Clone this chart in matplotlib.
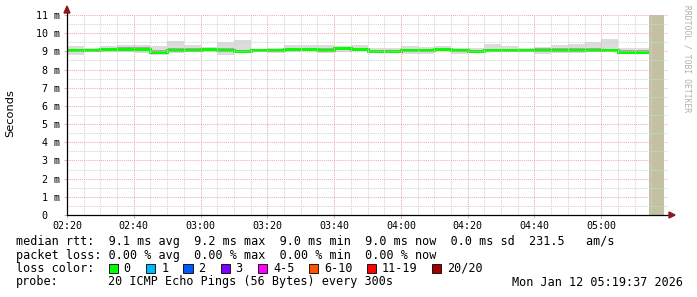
import numpy as np
import matplotlib
matplotlib.use("Agg")
import matplotlib.pyplot as plt
from matplotlib.patches import Rectangle, Polygon

# ---------------- data (milliseconds, 5-minute steps starting 02:20) ----------------
median = [9.05, 9.05, 9.12, 9.15, 9.15, 8.95, 9.05, 9.10, 9.15, 9.10, 9.00, 9.05,
          9.07, 9.15, 9.15, 9.10, 9.17, 9.12, 9.02, 9.00, 9.05, 9.05, 9.12, 9.05,
          9.00, 9.05, 9.05, 9.05, 9.08, 9.05, 9.05, 9.05, 9.05, 8.97, 8.97]
smoke_hi = [9.27, 9.18, 9.30, 9.36, 9.36, 9.27, 9.55, 9.36, 9.22, 9.50, 9.64, 9.15,
            9.18, 9.36, 9.36, 9.36, 9.30, 9.36, 9.18, 9.18, 9.30, 9.24, 9.30, 9.18,
            9.18, 9.42, 9.27, 9.18, 9.22, 9.36, 9.42, 9.53, 9.70, 9.18, 9.18]
smoke_lo = [8.82, 8.95, 8.95, 8.95, 8.91, 8.82, 8.91, 8.95, 8.95, 8.82, 8.91, 9.00,
            8.91, 8.95, 9.00, 8.91, 8.95, 9.00, 8.95, 8.95, 8.86, 8.86, 9.00, 8.87,
            8.91, 8.95, 9.00, 9.00, 8.86, 8.91, 8.91, 8.95, 9.00, 8.91, 8.91]
inner_hi = [9.12, 9.10, 9.20, 9.22, 9.22, 9.05, 9.20, 9.20, 9.20, 9.18, 9.10, 9.10,
            9.12, 9.20, 9.20, 9.18, 9.22, 9.20, 9.10, 9.08, 9.15, 9.14, 9.18, 9.10,
            9.08, 9.15, 9.12, 9.10, 9.18, 9.18, 9.20, 9.20, 9.15, 9.05, 9.05]
inner_lo = [8.98, 9.00, 9.02, 9.05, 9.00, 8.88, 8.98, 9.02, 9.05, 9.00, 8.95, 9.02,
            9.00, 9.05, 9.08, 9.00, 9.05, 9.05, 8.98, 8.98, 8.98, 8.98, 9.05, 8.98,
            8.95, 9.00, 9.02, 9.02, 8.98, 8.98, 8.98, 9.00, 9.02, 8.92, 8.92]
step_minutes = 5
unknown_start = 174.4   # minutes after 02:20
unknown_end = 178.8

x_tick_minutes = [0, 20, 40, 60, 80, 100, 120, 140, 160]
x_tick_labels = ["02:20", "02:40", "03:00", "03:20", "03:40", "04:00", "04:20", "04:40", "05:00"]
y_ticks = list(range(0, 12))
y_tick_labels = ["0  "] + [f"{v} m" for v in range(1, 12)]

stats_lines = [
    "median rtt:  9.1 ms avg  9.2 ms max  9.0 ms min  9.0 ms now  0.0 ms sd  231.5   am/s",
    "packet loss: 0.00 % avg  0.00 % max  0.00 % min  0.00 % now",
]
loss_labels = ["0", "1", "2", "3", "4-5", "6-10", "11-19", "20/20"]
loss_colors = ["#00ff00", "#00b8ff", "#0059ff", "#7e00ff", "#ff00ff", "#ff5500", "#ff0000", "#a10000"]
probe_text = "20 ICMP Echo Pings (56 Bytes) every 300s"
date_text = "Mon Jan 12 05:19:37 2026"

# ---------------- figure ----------------
W, H = 697, 297
fig = plt.figure(figsize=(W / 100, H / 100), dpi=100)
fig.patch.set_facecolor("white")
L, R, T, B = 67, 668, 15, 215
ax = fig.add_axes([L / W, 1 - B / H, (R - L) / W, (B - T) / H])
ax.set_xlim(0, 180)
ax.set_ylim(0, 11)
mono = "DejaVu Sans Mono"

n = len(median)
edges = np.arange(n + 1) * step_minutes

ax.stairs(smoke_hi, edges, baseline=smoke_lo, fill=True, color="#dcdcdc", zorder=1)
ax.stairs(inner_hi, edges, baseline=inner_lo, fill=True, color="#a8a8a8", zorder=2)
ax.stairs(median, edges, baseline=None, color="#00ff00", lw=2.2, zorder=3)

ax.add_patch(Rectangle((unknown_start, 0), unknown_end - unknown_start, 11,
                       facecolor="#c2c1a1", edgecolor="none", zorder=4))

# grid on top (rrdtool style)
dash = (0, (1, 1))
for m in np.arange(5, 180, 5):
    if m % 20 == 0:
        continue
    ax.axvline(m, color="#d4d4d4", lw=0.75, ls=dash, zorder=5)
for v in np.arange(0.5, 11.01, 0.5):
    if v % 1 == 0:
        continue
    ax.axhline(v, color="#d4d4d4", lw=0.75, ls=dash, zorder=5)
for m in x_tick_minutes[1:] + [180]:
    ax.axvline(m, color="#eab0b0", lw=0.75, ls=dash, zorder=6)
for v in y_ticks[1:]:
    ax.axhline(v, color="#eab0b0", lw=0.75, ls=dash, zorder=6)

for s in ax.spines.values():
    s.set_visible(False)
ax.set_xticks(x_tick_minutes)
ax.set_xticklabels(x_tick_labels, fontfamily=mono, fontsize=7.2)
ax.set_yticks(y_ticks)
ax.set_yticklabels(y_tick_labels, fontfamily=mono, fontsize=7.2)
ax.tick_params(axis="both", length=2, width=0.75, color="#eab0b0", pad=3)
ax.tick_params(axis="x", pad=2)

# axis lines and arrows
ax.plot([0, 0], [0, 11.25], color="black", lw=0.9, clip_on=False, zorder=7)
ax.plot([0, 181.5], [0, 0], color="black", lw=0.9, clip_on=False, zorder=7)
fig.add_artist(Polygon([(L / W, (H - 6) / H), ((L - 3) / W, (H - 13) / H), ((L + 3) / W, (H - 13) / H)],
                       closed=True, color="#8b1a1a", transform=fig.transFigure))
fig.add_artist(Polygon([((R + 7) / W, (H - B) / H), ((R + 1) / W, (H - B + 3) / H), ((R + 1) / W, (H - B - 3) / H)],
                       closed=True, color="#8b1a1a", transform=fig.transFigure))

fig.text(10 / W, 1 - 113 / H, "Seconds", rotation=90, ha="center", va="center",
         fontsize=8.2, fontfamily="DejaVu Sans")
fig.text(687 / W, 1 - 5 / H, "RRDTOOL / TOBI OETIKER", rotation=270, ha="center", va="top",
         fontsize=5.8, fontfamily=mono, color="#b0b0b0")

fs = 8.5
fig.text(16 / W, 1 - 241 / H, stats_lines[0], fontfamily=mono, fontsize=fs, va="center")
fig.text(16 / W, 1 - 255 / H, stats_lines[1], fontfamily=mono, fontsize=fs, va="center")
fig.text(16 / W, 1 - 268 / H, "loss color:", fontfamily=mono, fontsize=fs, va="center")
box_x = [108.5, 146.4, 183.5, 220.5, 258.0, 309.0, 367.0, 432.0]
for bx, lab, col in zip(box_x, loss_labels, loss_colors):
    fig.add_artist(Rectangle((bx / W, 1 - 272.5 / H), 9 / W, 9 / H, facecolor=col,
                             edgecolor="black", lw=0.6, transform=fig.transFigure))
    fig.text((bx + 15) / W, 1 - 268 / H, lab, fontfamily=mono, fontsize=fs, va="center")
fig.text(16 / W, 1 - 282 / H, "probe:", fontfamily=mono, fontsize=fs, va="center")
fig.text(108 / W, 1 - 282 / H, probe_text, fontfamily=mono, fontsize=fs, va="center")
fig.text(683 / W, 1 - 282 / H, date_text, fontfamily=mono, fontsize=fs, va="center", ha="right")

fig.savefig("out.png", dpi=100, facecolor="white")
